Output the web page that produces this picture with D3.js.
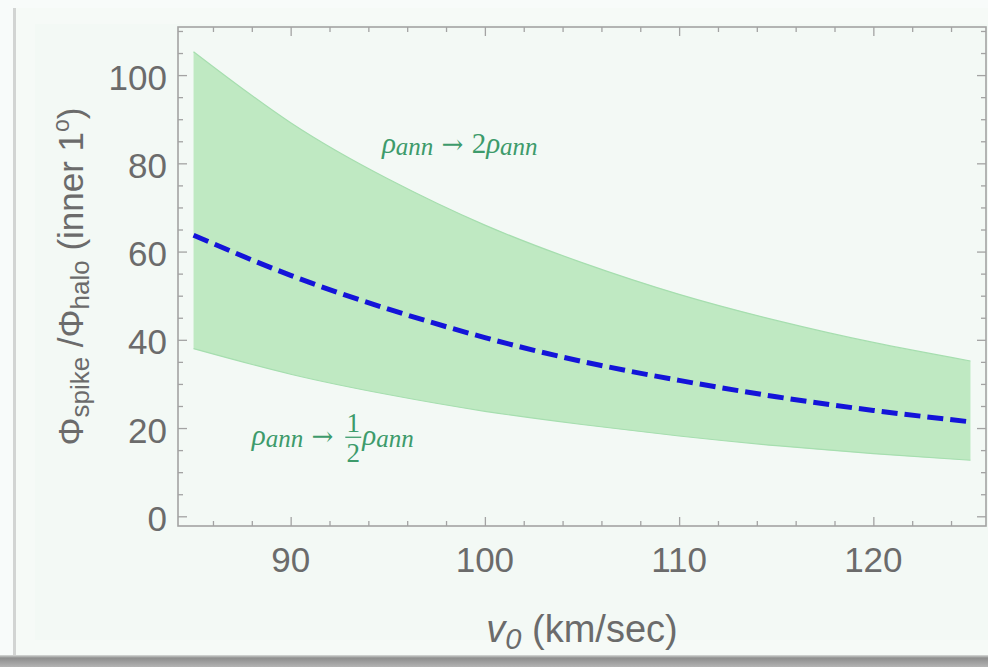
<!DOCTYPE html>
<html>
<head>
<meta charset="utf-8">
<script src="https://cdn.jsdelivr.net/npm/d3@7/dist/d3.min.js"></script>
<style>
  html, body { margin: 0; padding: 0; background: #f7fbf9; }
  svg { display: block; }
</style>
</head>
<body>
<svg id="chart" width="988" height="667"></svg>
<script>
// ---- data ----
const vValues      = [85, 90, 95, 100, 105, 110, 115, 120, 125];
const ratioUpper   = [105.3, 89.2, 76.5, 66.0, 57.5, 50.3, 44.4, 39.4, 35.2];
const ratioCentral = [63.7, 54.6, 47.0, 40.5, 35.1, 30.8, 27.1, 24.0, 21.4];
const ratioLower   = [38.0, 32.2, 27.6, 23.8, 20.8, 18.2, 16.0, 14.2, 12.7];
const xMajorTicks  = [90, 100, 110, 120];
const yMajorTicks  = [0, 20, 40, 60, 80, 100];
const xMinorTicks  = [86, 88, 92, 94, 96, 98, 102, 104, 106, 108, 112, 114, 116, 118, 122, 124];
const yMinorTicks  = [5, 10, 15, 25, 30, 35, 45, 50, 55, 65, 70, 75, 85, 90, 95, 105, 110];
const xDomain = [84.2, 125.8];
const yDomain = [-2.2, 110.9];
const annUpper = {v: 94.7, r: 82.3};
const annLower = {v: 88.0, r: 16.1};

const svg = d3.select("#chart");
const W = 988, H = 667;
const plot = {left: 178, right: 986, top: 27, bottom: 526};

// ---- slide frame ----
const defs = svg.append("defs");
const g1 = defs.append("linearGradient").attr("id", "shadow").attr("x1", 0).attr("y1", 0).attr("x2", 0).attr("y2", 1);
g1.append("stop").attr("offset", "0%").attr("stop-color", "#d8dbd9");
g1.append("stop").attr("offset", "25%").attr("stop-color", "#8e8e8e");
g1.append("stop").attr("offset", "100%").attr("stop-color", "#b4b4b4");

svg.append("rect").attr("x", 0).attr("y", 0).attr("width", W).attr("height", H).attr("fill", "#f8fbfa");
svg.append("rect").attr("x", 16).attr("y", 8).attr("width", W - 16).attr("height", 649).attr("fill", "#f6faf7");
svg.append("rect").attr("x", 35).attr("y", 24).attr("width", W - 35).attr("height", 616).attr("fill", "#f3f9f5");
svg.append("rect").attr("x", 13).attr("y", 8).attr("width", 3).attr("height", 649).attr("fill", "#d2d4d3");
svg.append("rect").attr("x", 0).attr("y", 655).attr("width", W).attr("height", 12).attr("fill", "url(#shadow)");

// ---- scales ----
const x = d3.scaleLinear().domain(xDomain).range([plot.left, plot.right]);
const y = d3.scaleLinear().domain(yDomain).range([plot.bottom, plot.top]);

const rows = vValues.map((v, i) => ({v, up: ratioUpper[i], mid: ratioCentral[i], lo: ratioLower[i]}));

// ---- band ----
const area = d3.area().x(d => x(d.v)).y0(d => y(d.lo)).y1(d => y(d.up)).curve(d3.curveNatural);
svg.append("path").datum(rows).attr("d", area)
  .attr("fill", "#bfe9c2").attr("stroke", "none");
const edge = (key) => d3.line().x(d => x(d.v)).y(d => y(d[key])).curve(d3.curveNatural);
["up", "lo"].forEach(k => {
  svg.append("path").datum(rows).attr("d", edge(k)).attr("fill", "none")
    .attr("stroke", "#a6deaf").attr("stroke-width", 1.2);
});

// ---- central dashed line ----
svg.append("path").datum(rows).attr("d", edge("mid"))
  .attr("fill", "none").attr("stroke", "#1414d9").attr("stroke-width", 5)
  .attr("stroke-dasharray", "16 7");

// ---- frame axes (ticks inward on all four sides) ----
const axisColor = "#a3a3a3";
const tickColor = "#a3a3a3";
function styleAxis(g) {
  g.select(".domain").remove();
  g.selectAll("line").attr("stroke", tickColor).attr("stroke-width", 1.3);
  g.selectAll("text").remove();
}
const majorLen = 9, minorLen = 5;
svg.append("g").attr("transform", `translate(0,${plot.bottom})`)
  .call(d3.axisTop(x).tickValues(xMajorTicks).tickSize(majorLen)).call(styleAxis);
svg.append("g").attr("transform", `translate(0,${plot.bottom})`)
  .call(d3.axisTop(x).tickValues(xMinorTicks).tickSize(minorLen)).call(styleAxis);
svg.append("g").attr("transform", `translate(0,${plot.top})`)
  .call(d3.axisBottom(x).tickValues(xMajorTicks).tickSize(majorLen)).call(styleAxis);
svg.append("g").attr("transform", `translate(0,${plot.top})`)
  .call(d3.axisBottom(x).tickValues(xMinorTicks).tickSize(minorLen)).call(styleAxis);
svg.append("g").attr("transform", `translate(${plot.left},0)`)
  .call(d3.axisRight(y).tickValues(yMajorTicks).tickSize(majorLen)).call(styleAxis);
svg.append("g").attr("transform", `translate(${plot.left},0)`)
  .call(d3.axisRight(y).tickValues(yMinorTicks).tickSize(minorLen)).call(styleAxis);
svg.append("g").attr("transform", `translate(${plot.right},0)`)
  .call(d3.axisLeft(y).tickValues(yMajorTicks).tickSize(majorLen)).call(styleAxis);
svg.append("g").attr("transform", `translate(${plot.right},0)`)
  .call(d3.axisLeft(y).tickValues(yMinorTicks).tickSize(minorLen)).call(styleAxis);

svg.append("rect").attr("x", plot.left).attr("y", plot.top)
  .attr("width", plot.right - plot.left).attr("height", plot.bottom - plot.top)
  .attr("fill", "none").attr("stroke", axisColor).attr("stroke-width", 1.6);

// ---- tick labels ----
const labelColor = "#6b6b6b";
const font = "'Liberation Sans', Arial, Helvetica, sans-serif";
svg.append("g").selectAll("text").data(yMajorTicks).join("text")
  .attr("x", plot.left - 11).attr("y", d => y(d) + 2)
  .attr("text-anchor", "end").attr("dominant-baseline", "central")
  .attr("font-family", font).attr("font-size", 35).attr("fill", labelColor)
  .text(d => d);
svg.append("g").selectAll("text").data(xMajorTicks).join("text")
  .attr("x", d => x(d)).attr("y", 572)
  .attr("text-anchor", "middle")
  .attr("font-family", font).attr("font-size", 35).attr("fill", labelColor)
  .text(d => d);

// ---- axis titles ----
const xt = svg.append("text").attr("x", (plot.left + plot.right) / 2).attr("y", 642)
  .attr("text-anchor", "middle").attr("font-family", font).attr("font-size", 38).attr("fill", labelColor);
xt.append("tspan").attr("font-style", "italic").text("v");
xt.append("tspan").attr("font-style", "italic").attr("font-size", 29).attr("dy", 7).text("0");
xt.append("tspan").attr("dy", -7).text(" (km/sec)");

const yt = svg.append("text")
  .attr("transform", `translate(83,${(plot.top + plot.bottom) / 2}) rotate(-90)`)
  .attr("text-anchor", "middle").attr("font-family", font).attr("font-size", 35).attr("fill", labelColor);
yt.append("tspan").text("Φ");
yt.append("tspan").attr("font-size", 26).attr("dy", 6).text("spike");
yt.append("tspan").attr("dy", -6).text(" /Φ");
yt.append("tspan").attr("font-size", 26).attr("dy", 6).text("halo");
yt.append("tspan").attr("dy", -6).text(" (inner 1");
yt.append("tspan").attr("font-size", 23).attr("dy", -14).text("o");
yt.append("tspan").attr("dy", 14).text(")");

// ---- annotations ----
const annColor = "#3d9b6b";
const serif = "'Liberation Serif', 'Times New Roman', serif";
const arrowFont = "'DejaVu Serif', serif";
const mainSize = 29, subSize = 25;

function rhoAnn(t) {
  t.append("tspan").attr("font-style", "italic").text("ρ");
  t.append("tspan").attr("font-style", "italic").attr("font-size", subSize).attr("dy", 2).text("ann");
}

const a1 = svg.append("text").attr("x", x(annUpper.v)).attr("y", y(annUpper.r))
  .attr("font-family", serif).attr("font-size", mainSize).attr("fill", annColor);
rhoAnn(a1);
a1.append("tspan").attr("dy", -2).attr("font-family", arrowFont).attr("font-size", 26).text(" → ");
a1.append("tspan").text("2");
rhoAnn(a1);

const ax0 = x(annLower.v), ay0 = y(annLower.r);
const a2a = svg.append("text").attr("x", ax0).attr("y", ay0)
  .attr("font-family", serif).attr("font-size", mainSize).attr("fill", annColor);
rhoAnn(a2a);
a2a.append("tspan").attr("dy", -2).attr("font-family", arrowFont).attr("font-size", 26).text(" →");
const w1 = a2a.node().getComputedTextLength();
const fracX = ax0 + w1 + 12;
const fracW = 16;
const fracSize = 27;
svg.append("text").attr("x", fracX + fracW / 2).attr("y", ay0 - 13)
  .attr("text-anchor", "middle").attr("font-family", serif).attr("font-size", fracSize)
  .attr("fill", annColor).text("1");
svg.append("line").attr("x1", fracX).attr("x2", fracX + fracW)
  .attr("y1", ay0 - 8).attr("y2", ay0 - 8).attr("stroke", annColor).attr("stroke-width", 1.3);
svg.append("text").attr("x", fracX + fracW / 2).attr("y", ay0 + 17)
  .attr("text-anchor", "middle").attr("font-family", serif).attr("font-size", fracSize)
  .attr("fill", annColor).text("2");
const a2b = svg.append("text").attr("x", fracX + fracW + 1).attr("y", ay0)
  .attr("font-family", serif).attr("font-size", mainSize).attr("fill", annColor);
rhoAnn(a2b);
</script>
</body>
</html>
